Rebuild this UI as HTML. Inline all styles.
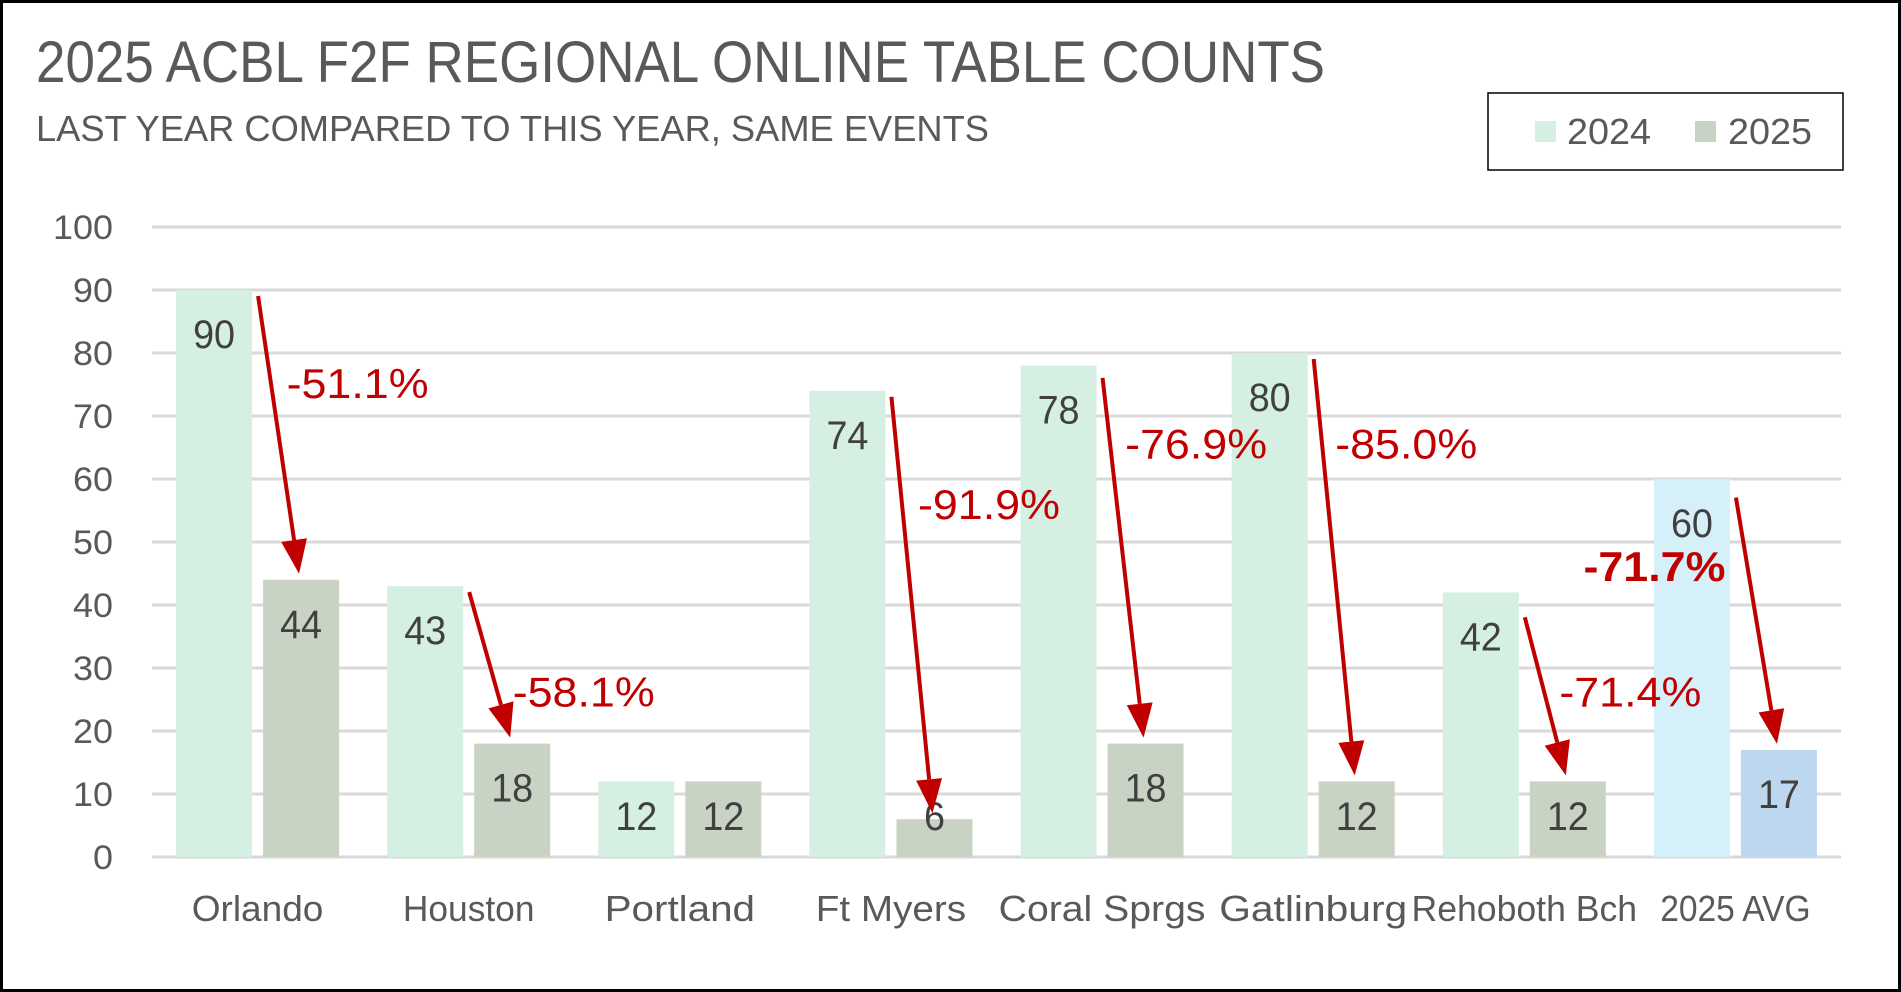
<!DOCTYPE html>
<html><head><meta charset="utf-8"><style>
html,body{margin:0;padding:0;background:#fff;}
svg{display:block;font-family:"Liberation Sans Narrow","Liberation Sans",sans-serif;}
</style></head><body>
<svg id="chart" width="1901" height="992" viewBox="0 0 1901 992" xmlns="http://www.w3.org/2000/svg">
<rect x="1.5" y="1.5" width="1898" height="989" fill="#fff" stroke="#000" stroke-width="3"/>
<text x="36" y="82" font-size="58" fill="#595959" textLength="1289" lengthAdjust="spacingAndGlyphs">2025 ACBL F2F REGIONAL ONLINE TABLE COUNTS</text>
<text x="36" y="141" font-size="36" fill="#595959" textLength="953" lengthAdjust="spacingAndGlyphs">LAST YEAR COMPARED TO THIS YEAR, SAME EVENTS</text>
<g>
<rect x="1488" y="93" width="355" height="77" fill="#fff" stroke="#000" stroke-width="1.5"/>
<rect x="1535" y="121" width="21" height="21" fill="#d5f0e2"/>
<text x="1567" y="144" font-size="36" fill="#595959" textLength="84" lengthAdjust="spacingAndGlyphs">2024</text>
<rect x="1695" y="121" width="21" height="21" fill="#c9d3c3"/>
<text x="1728" y="144" font-size="36" fill="#595959" textLength="84" lengthAdjust="spacingAndGlyphs">2025</text>
</g>
<g id="grid"></g><g id="bars"></g><g id="labels"></g><g id="arrows"></g>
</svg>
<script>
const categories = ["Orlando","Houston","Portland","Ft Myers","Coral Sprgs","Gatlinburg","Rehoboth Bch","2025 AVG"];
const values2024 = [90,43,12,74,78,80,42,60];
const values2025 = [44,18,12,6,18,12,12,17];
const yTicks = [0,10,20,30,40,50,60,70,80,90,100];
const pctLabelY = [75.2,26.3,null,56,65.6,65.6,26.3,46.2];
const pctLabelDx = [29,44,0,27,23,22,35,-152];
const arrowStartDrop = [0,0,null,0,1,0,3,2];

const NS="http://www.w3.org/2000/svg";
const X0=152, X1=1841, Y0=857, Y100=227;
const catW=(X1-X0)/categories.length;
const barW=76, gap=11;
function yScale(v){return Y0-(Y0-Y100)*v/100;}
function catCenter(i){return X0+catW*(i+0.5);}
function mk(tag,attrs,parent){const e=document.createElementNS(NS,tag);for(const k in attrs)e.setAttribute(k,attrs[k]);parent.appendChild(e);return e;}
const grid=document.getElementById('grid'),bars=document.getElementById('bars'),labels=document.getElementById('labels'),arrows=document.getElementById('arrows');

yTicks.forEach(t=>{
  const y=yScale(t);
  const l=mk('line',{x1:X0,x2:X1,y1:y,y2:y,stroke:'#d9d9d9','stroke-width':3},grid);
  
  
  const s=String(t);
  const tx=mk('text',{x:113,y:y+12,'font-size':34,fill:'#595959','text-anchor':'end',textLength:s.length*20,lengthAdjust:'spacingAndGlyphs'},grid);
  tx.textContent=s;
  
  
});

categories.forEach((c,i)=>{
  const cx=catCenter(i);
  const isAvg=i===categories.length-1;
  const xa=cx-gap/2-barW, xb=cx+gap/2;
  const ya=yScale(values2024[i]), yb=yScale(values2025[i]);
  const ra=mk('rect',{x:xa,y:ya,width:barW,height:Y0-ya,fill:isAvg?'#d5f0f8':'#d5f0e2'},bars);
  
  
  const rb=mk('rect',{x:xb,y:yb,width:barW,height:Y0-yb,fill:isAvg?'#bdd7ee':'#c9d3c3'},bars);
  
  
  [[xa,ya,values2024[i],'2024'],[xb,yb,values2025[i],'2025']].forEach(([x,y,v,s])=>{
    const cy=Math.min(y+44,816);
    const str=String(v);
    const t=mk('text',{x:x+barW/2,y:cy+14,'font-size':40,fill:'#404040','text-anchor':'middle',textLength:str.length*21,lengthAdjust:'spacingAndGlyphs'},labels);
    t.textContent=str;
    
    
  });
  const cl=mk('text',{x:cx,y:921,'font-size':36,fill:'#595959','text-anchor':'middle',textLength:c.length*18.8,lengthAdjust:'spacingAndGlyphs'},labels);
  cl.textContent=c;
  
  

  if(pctLabelY[i]!==null){
    const sx=xa+barW+6, sy=ya+6+(arrowStartDrop[i]||0)*6.3;
    const ex=xb+barW/2-2, ey=yb-6;
    const ang=Math.atan2(ey-sy,ex-sx), hl=34, hw=13;
    const bx=ex-hl*Math.cos(ang), by=ey-hl*Math.sin(ang);
    const ln=mk('line',{x1:sx,y1:sy,x2:bx,y2:by,stroke:'#c00000','stroke-width':4},arrows);
    
    
    const px=-Math.sin(ang)*hw, py=Math.cos(ang)*hw;
    const hd=mk('polygon',{points:`${ex},${ey} ${bx+px},${by+py} ${bx-px},${by-py}`,fill:'#c00000'},arrows);
    
    
    const pct=(values2025[i]/values2024[i]-1)*100;
    const pt=mk('text',{x:cx+pctLabelDx[i],y:yScale(pctLabelY[i])+15,'font-size':42,fill:'#c00000','font-weight':isAvg?'bold':'normal',textLength:142,lengthAdjust:'spacingAndGlyphs'},arrows);
    pt.textContent=pct.toFixed(1)+'%';
    
    
  }
});
</script>
</body></html>
